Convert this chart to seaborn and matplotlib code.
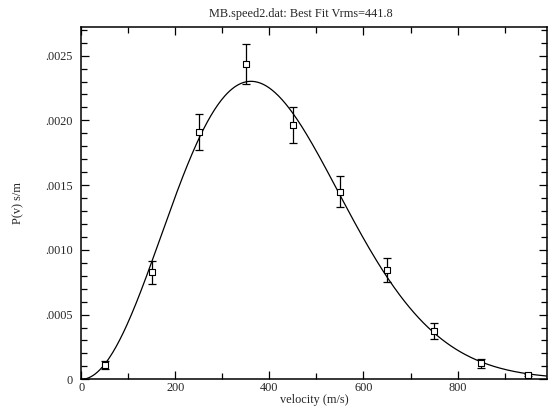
import numpy as np
import pandas as pd
import matplotlib
matplotlib.use("Agg")
import matplotlib.pyplot as plt
import seaborn as sns
from matplotlib.ticker import FuncFormatter, MultipleLocator

velocity = [50, 150, 250, 350, 450, 550, 650, 750, 850, 950]
prob = [0.000110, 0.000827, 0.001912, 0.002437, 0.001962, 0.001450,
        0.000845, 0.000373, 0.000124, 0.000031]
err = [0.000034, 0.000090, 0.000138, 0.000155, 0.000138, 0.000118,
       0.000094, 0.000060, 0.000035, 0.000008]

# best fit parameter from the title
vrms = 441.8

df = pd.DataFrame({"v": velocity, "p": prob, "e": err})

# Maxwell-Boltzmann curve for the fitted Vrms
v_fit = np.linspace(0, 990, 400)
a = 3.0 / (2.0 * vrms ** 2)
p_fit = 4 * np.pi * (a / np.pi) ** 1.5 * v_fit ** 2 * np.exp(-a * v_fit ** 2)
fit_df = pd.DataFrame({"v": v_fit, "p": p_fit})

sns.set_style("ticks")
plt.rcParams["font.family"] = ["Liberation Serif", "DejaVu Serif"]
plt.rcParams["font.size"] = 8.8

fig = plt.figure(figsize=(5.48, 4.11), dpi=100)
ax = fig.add_axes([0.1484, 0.0771, 0.8496, 0.8569])

sns.lineplot(data=fit_df, x="v", y="p", color="black", linewidth=0.9, ax=ax)
ax.errorbar(df["v"], df["p"], yerr=df["e"], fmt="none", ecolor="black",
            elinewidth=0.9, capsize=3, capthick=0.9)
sns.scatterplot(data=df, x="v", y="p", marker="s", s=22, facecolor="white",
                edgecolor="black", linewidth=0.8, ax=ax, zorder=5)

ax.set_xlim(0, 990)
ax.set_ylim(0, 0.00272)
ax.xaxis.set_major_locator(MultipleLocator(200))
ax.xaxis.set_minor_locator(MultipleLocator(100))
ax.yaxis.set_major_locator(MultipleLocator(0.0005))
ax.yaxis.set_minor_locator(MultipleLocator(0.0001))


def yfmt(val, pos):
    if abs(val) < 1e-12:
        return "0"
    return ("%.4f" % val).lstrip("0")


ax.yaxis.set_major_formatter(FuncFormatter(yfmt))
ax.tick_params(which="both", direction="in", top=True, right=True,
               width=0.9, labelsize=8.8, color="black")
ax.tick_params(which="major", length=6)
ax.tick_params(which="minor", length=4)
ax.tick_params(axis="y", which="major", pad=6)
ax.tick_params(axis="x", which="major", pad=2)
for s in ax.spines.values():
    s.set_linewidth(1.1)
    s.set_color("black")

ax.set_xlabel("velocity (m/s)", fontsize=8.8, labelpad=0)
ax.set_ylabel("P(v) s/m", fontsize=8.8, labelpad=15)
ax.set_title("MB.speed2.dat: Best Fit Vrms=441.8", fontsize=8.8, x=0.472, pad=7)

fig.savefig("out.png", dpi=100)
